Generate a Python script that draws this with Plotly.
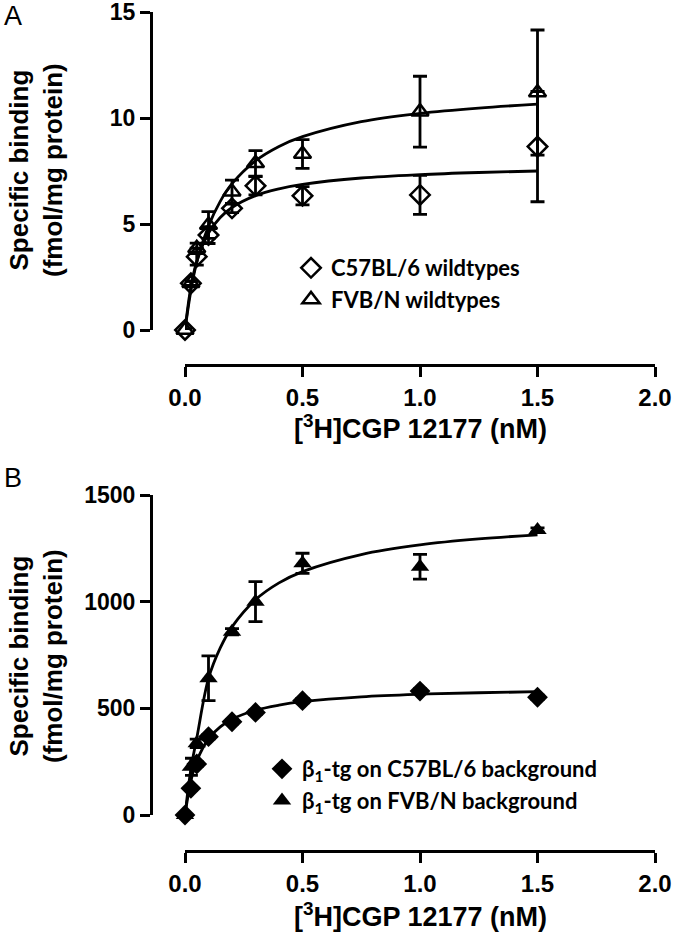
import plotly.graph_objects as go

# ---------------- data ----------------
conc = [0, 0.025, 0.05, 0.1, 0.2, 0.3, 0.5, 1.0, 1.5]

# Panel A (wildtypes)
a_c57 = [0, 2.2, 3.46, 4.48, 5.74, 6.8, 6.33, 6.37, 8.65]
a_c57_err = [0.05, 0.1, 0.4, 0.4, 0.2, 0.43, 0.43, 0.92, 2.6]
a_fvb = [0, 2.2, 3.85, 4.95, 6.52, 7.86, 8.3, 10.3, 11.2]
a_fvb_err = [0.05, 0.1, 0.25, 0.63, 0.55, 0.6, 0.68, 1.67, 2.95]

fit_x = [0, 0.025, 0.05, 0.1, 0.15, 0.2, 0.3, 0.4, 0.5, 0.75, 1.0, 1.25, 1.5]
a_c57_fit = [0, 2.03, 3.22, 4.57, 5.31, 5.78, 6.34, 6.66, 6.87, 7.17, 7.33, 7.43, 7.5]
a_fvb_fit = [0, 1.85, 3.2, 4.9, 6.07, 6.9, 7.98, 8.66, 9.12, 9.83, 10.22, 10.47, 10.65]

# Panel B (beta1-transgenic)
b_c57 = [0, 125, 239, 367, 437, 481, 536, 581, 552]
b_c57_err = [0, 8, 10, 10, 10, 10, 10, 10, 10]
b_fvb = [0, 226, 336, 641, 859, 1000, 1180, 1164, 1336]
b_fvb_err = [0, 40, 20, 105, 15, 94, 47, 58, 10]
b_c57_fit = [0, 160, 253, 357, 413, 449, 491, 515, 531, 554, 566, 573, 578]
b_fvb_fit = [0, 215, 360, 640, 783, 882, 1009, 1088, 1141, 1221, 1266, 1294, 1313]

x_ticks = [0.0, 0.5, 1.0, 1.5, 2.0]
x_ticktext = ["0.0", "0.5", "1.0", "1.5", "2.0"]
a_yticks = [0, 5, 10, 15]
b_yticks = [0, 500, 1000, 1500]

legend_a = ["C57BL/6 wildtypes", "FVB/N wildtypes"]
legend_b = ["β<sub>1</sub>-tg on C57BL/6 background", "β<sub>1</sub>-tg on FVB/N background"]

x_title = "[<sup>3</sup>H]CGP 12177 (nM)"
y_title = "Specific binding<br>(fmol/mg protein)"
panel_labels = ["A", "B"]

# ---------------- figure ----------------
W, H = 700, 943
ARIAL = "Arial, Liberation Sans, sans-serif"
AX_FONT = dict(family=ARIAL, size=24, color="black", weight="bold")
YT_FONT = dict(family=ARIAL, size=23, color="black", weight="bold")
TITLE_FONT = dict(family=ARIAL, size=27, color="black", weight="bold")
YTITLE_FONT = dict(family=ARIAL, size=26, color="black", weight="bold")
LEG_FONT = dict(family="Lato, sans-serif", size=22, color="black", weight="bold")

def px_x(p):
    return p / W

def px_y(p):
    return (H - p) / H

fig = go.Figure()

def err(arr):
    return dict(type="data", array=arr, visible=True, color="black", thickness=2.8, width=7)

LINE = dict(color="black", width=2.8, shape="spline")

# Panel A
fig.add_trace(go.Scatter(x=fit_x, y=a_c57_fit, mode="lines", line=LINE,
                         xaxis="x", yaxis="y", showlegend=False, hoverinfo="skip"))
fig.add_trace(go.Scatter(x=fit_x, y=a_fvb_fit, mode="lines", line=LINE,
                         xaxis="x", yaxis="y", showlegend=False, hoverinfo="skip"))
fig.add_trace(go.Scatter(x=conc, y=a_c57, mode="markers", name=legend_a[0], error_y=err(a_c57_err),
                         marker=dict(symbol="diamond-open", size=15, color="black", line=dict(width=2.5, color="black")),
                         xaxis="x", yaxis="y", legend="legend", cliponaxis=False))
fig.add_trace(go.Scatter(x=conc, y=a_fvb, mode="markers", name=legend_a[1], error_y=err(a_fvb_err),
                         marker=dict(symbol="triangle-up-open", size=15, color="black", line=dict(width=2.5, color="black")),
                         xaxis="x", yaxis="y", legend="legend", cliponaxis=False))

# Panel B
fig.add_trace(go.Scatter(x=fit_x, y=b_c57_fit, mode="lines", line=LINE,
                         xaxis="x2", yaxis="y2", showlegend=False, hoverinfo="skip"))
fig.add_trace(go.Scatter(x=fit_x, y=b_fvb_fit, mode="lines", line=LINE,
                         xaxis="x2", yaxis="y2", showlegend=False, hoverinfo="skip"))
fig.add_trace(go.Scatter(x=conc, y=b_c57, mode="markers", name=legend_b[0], error_y=err(b_c57_err),
                         marker=dict(symbol="diamond", size=16, color="black"),
                         xaxis="x2", yaxis="y2", legend="legend2", cliponaxis=False))
fig.add_trace(go.Scatter(x=conc, y=b_fvb, mode="markers", name=legend_b[1], error_y=err(b_fvb_err),
                         marker=dict(symbol="triangle-up", size=16, color="black"),
                         xaxis="x2", yaxis="y2", legend="legend2", cliponaxis=False))

xdom = [px_x(185), px_x(655)]
common_x = dict(range=[0, 2], domain=xdom, anchor="free", showline=True, linecolor="black", linewidth=3,
                ticks="outside", ticklen=10, tickwidth=3, tickcolor="black", tickvals=x_ticks, ticktext=x_ticktext,
                tickfont=AX_FONT, showgrid=False, zeroline=False, automargin=False, ticklabeloverflow="allow")
common_y = dict(anchor="free", position=px_x(151), showline=True, linecolor="black", linewidth=3,
                ticks="outside", ticklen=10, tickwidth=3, tickcolor="black", tickfont=YT_FONT,
                showgrid=False, zeroline=False, automargin=False, ticklabeloverflow="allow")

annotations = []
# axis titles
for yc in (170, 656):
    annotations.append(dict(text=y_title, x=px_x(36), y=px_y(yc), xref="paper", yref="paper",
                            xanchor="center", yanchor="middle", textangle=-90, showarrow=False,
                            font=YTITLE_FONT))
for yc in (427, 915):
    annotations.append(dict(text=x_title, x=px_x(420), y=px_y(yc), xref="paper", yref="paper",
                            xanchor="center", yanchor="middle", showarrow=False, font=TITLE_FONT))
# panel letters
for lab, yc in zip(panel_labels, (16, 478)):
    annotations.append(dict(text=lab, x=px_x(2), y=px_y(yc), xref="paper", yref="paper",
                            xanchor="left", yanchor="middle", showarrow=False,
                            font=dict(family=ARIAL, size=27, color="black")))

fig.update_layout(
    width=W, height=H,
    margin=dict(l=0, r=0, t=0, b=0),
    paper_bgcolor="white", plot_bgcolor="white",
    xaxis=dict(common_x, position=px_y(365)),
    yaxis=dict(common_y, range=[0, 15], domain=[px_y(330), px_y(12)], tickvals=a_yticks),
    xaxis2=dict(common_x, position=px_y(851)),
    yaxis2=dict(common_y, range=[0, 1500], domain=[px_y(815), px_y(495)], tickvals=b_yticks),
    legend=dict(x=px_x(291), y=px_y(247), xanchor="left", yanchor="top", font=LEG_FONT,
                bgcolor="rgba(0,0,0,0)", borderwidth=0, tracegroupgap=0, itemsizing="trace"),
    legend2=dict(x=px_x(262), y=px_y(748), xanchor="left", yanchor="top", font=LEG_FONT,
                 bgcolor="rgba(0,0,0,0)", borderwidth=0, tracegroupgap=0, itemsizing="trace"),
    annotations=annotations,
)

fig.write_html("out.html", config={"displayModeBar": False},
               post_script="document.body.style.margin='0';document.body.style.overflow='hidden';")
